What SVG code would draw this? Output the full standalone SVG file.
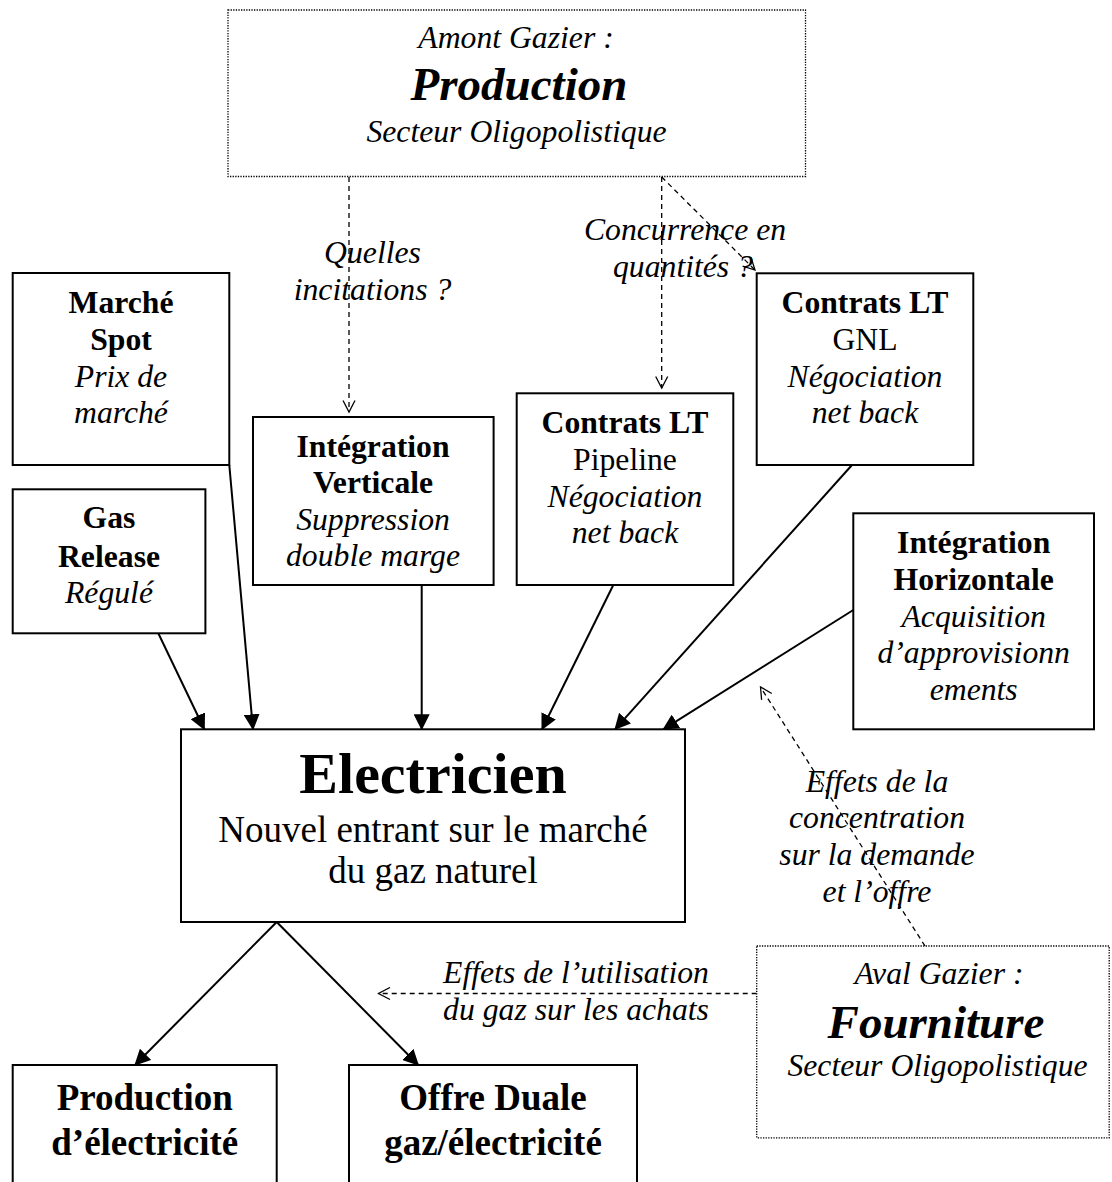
<svg xmlns="http://www.w3.org/2000/svg" width="1112" height="1182" viewBox="0 0 1112 1182">
<style>
text{font-family:"Liberation Serif","Times New Roman",serif;fill:#000;text-anchor:middle;font-size:31.7px}
.b{font-weight:bold}
.i{font-style:italic}
.bi{font-weight:bold;font-style:italic;font-size:47px}
.box{fill:#fff;stroke:#000;stroke-width:2}
.dot{fill:#fff;stroke:#000;stroke-width:1.3;stroke-dasharray:1.3 1.3}
.sol{fill:none;stroke:#000;stroke-width:2;marker-end:url(#ah)}
.dash{fill:none;stroke:#000;stroke-width:1.3;stroke-dasharray:5 4;marker-end:url(#oa)}
.big{font-size:37px}
</style>
<defs>
<marker id="ah" markerUnits="userSpaceOnUse" viewBox="0 0 16 16" markerWidth="16" markerHeight="16" refX="15" refY="8" orient="auto">
<path d="M0,0 L16,8 L0,16 z" fill="#000"/>
</marker>
<marker id="oa" markerUnits="userSpaceOnUse" viewBox="0 0 14 14" markerWidth="14" markerHeight="14" refX="12.5" refY="7" orient="auto">
<path d="M1,1 L12.5,7 L1,13" fill="none" stroke="#000" stroke-width="1.3"/>
</marker>
</defs>
<rect width="1112" height="1182" fill="#fff"/>

<g id="connectors">
<path class="dash" d="M349,177 L349,412"/>
<path class="dash" d="M661.7,177 L661.7,388"/>
<path class="dash" d="M661.7,177 L755,270"/>
<path class="dash" d="M925,946 L760.5,687"/>
<path class="dash" d="M756.7,993.5 L378.5,993.5"/>
<path class="sol" d="M158.3,633.3 L204.3,729.3"/>
<path class="sol" d="M229.3,465 L253,729.3"/>
<path class="sol" d="M421.7,585 L421.7,729.3"/>
<path class="sol" d="M613.3,585 L542,729.3"/>
<path class="sol" d="M852,465 L615,729.3"/>
<path class="sol" d="M853.3,610 L663.3,729.3"/>
<path class="sol" d="M276.7,922 L135,1065"/>
<path class="sol" d="M276.7,922 L418.3,1065"/>
</g>

<g id="amont">
<rect class="dot" x="228" y="10" width="577.5" height="166.5"/>
<text class="i" x="516" y="48">Amont Gazier :</text>
<text class="bi" x="519" y="100">Production</text>
<text class="i" x="516.5" y="141.7">Secteur Oligopolistique</text>
</g>

<g id="marche-spot">
<rect class="box" x="12.7" y="273" width="216.6" height="192"/>
<text class="b" x="121" y="313">Marché</text>
<text class="b" x="121" y="350">Spot</text>
<text class="i" x="121" y="386.7">Prix de</text>
<text class="i" x="121" y="423">marché</text>
</g>

<g id="gas-release">
<rect class="box" x="12.7" y="489.3" width="192.7" height="144"/>
<text class="b" x="109" y="528.3">Gas</text>
<text class="b" x="109" y="566.7">Release</text>
<text class="i" x="109" y="603.3">Régulé</text>
</g>

<g id="integration-verticale">
<rect class="box" x="253" y="417" width="240.6" height="168"/>
<text class="b" x="373" y="456.7">Intégration</text>
<text class="b" x="373" y="493.3">Verticale</text>
<text class="i" x="373" y="530">Suppression</text>
<text class="i" x="373" y="566">double marge</text>
</g>

<g id="contrats-pipeline">
<rect class="box" x="516.7" y="393.3" width="216.6" height="191.7"/>
<text class="b" x="625" y="433">Contrats LT</text>
<text x="625" y="470">Pipeline</text>
<text class="i" x="625" y="506.7">Négociation</text>
<text class="i" x="625" y="543.3">net back</text>
</g>

<g id="contrats-gnl">
<rect class="box" x="756.7" y="273.3" width="216.6" height="191.7"/>
<text class="b" x="865" y="313.3">Contrats LT</text>
<text x="865" y="350">GNL</text>
<text class="i" x="865" y="386.7">Négociation</text>
<text class="i" x="865" y="423.3">net back</text>
</g>

<g id="integration-horizontale">
<rect class="box" x="853.3" y="513.3" width="240.7" height="216"/>
<text class="b" x="973.7" y="553.3">Intégration</text>
<text class="b" x="973.7" y="590">Horizontale</text>
<text class="i" x="973.7" y="626.7">Acquisition</text>
<text class="i" x="973.7" y="663.3">d’approvisionn</text>
<text class="i" x="973.7" y="700">ements</text>
</g>

<g id="electricien">
<rect class="box" x="181" y="729.3" width="504" height="192.7"/>
<text class="b" x="433" y="793" style="font-size:58px">Electricien</text>
<text class="big" x="433" y="841.7">Nouvel entrant sur le marché</text>
<text class="big" x="433" y="883">du gaz naturel</text>
</g>

<g id="production-electricite">
<rect class="box" x="12.7" y="1065" width="264" height="140"/>
<text class="b big" x="144.7" y="1110">Production</text>
<text class="b big" x="144.7" y="1155">d’électricité</text>
</g>

<g id="offre-duale">
<rect class="box" x="349" y="1065" width="288" height="140"/>
<text class="b big" x="493" y="1110">Offre Duale</text>
<text class="b big" x="493" y="1155">gaz/électricité</text>
</g>

<g id="aval">
<rect class="dot" x="756.7" y="946" width="352.5" height="191.8"/>
<text class="i" x="939" y="984">Aval Gazier :</text>
<text class="bi" x="936" y="1037.5">Fourniture</text>
<text class="i" x="937.5" y="1075.5">Secteur Oligopolistique</text>
</g>

<g id="labels">
<text class="i" x="372.5" y="263.3">Quelles</text>
<text class="i" x="372.5" y="300">incitations ?</text>
<text class="i" x="685" y="240">Concurrence en</text>
<text class="i" x="683" y="276.7">quantités ?</text>
<text class="i" x="877" y="791.7">Effets de la</text>
<text class="i" x="877" y="828.3">concentration</text>
<text class="i" x="877" y="865">sur la demande</text>
<text class="i" x="877" y="901.7">et l’offre</text>
<text class="i" x="576" y="983.3">Effets de l’utilisation</text>
<text class="i" x="576" y="1020">du gaz sur les achats</text>
</g>
</svg>
